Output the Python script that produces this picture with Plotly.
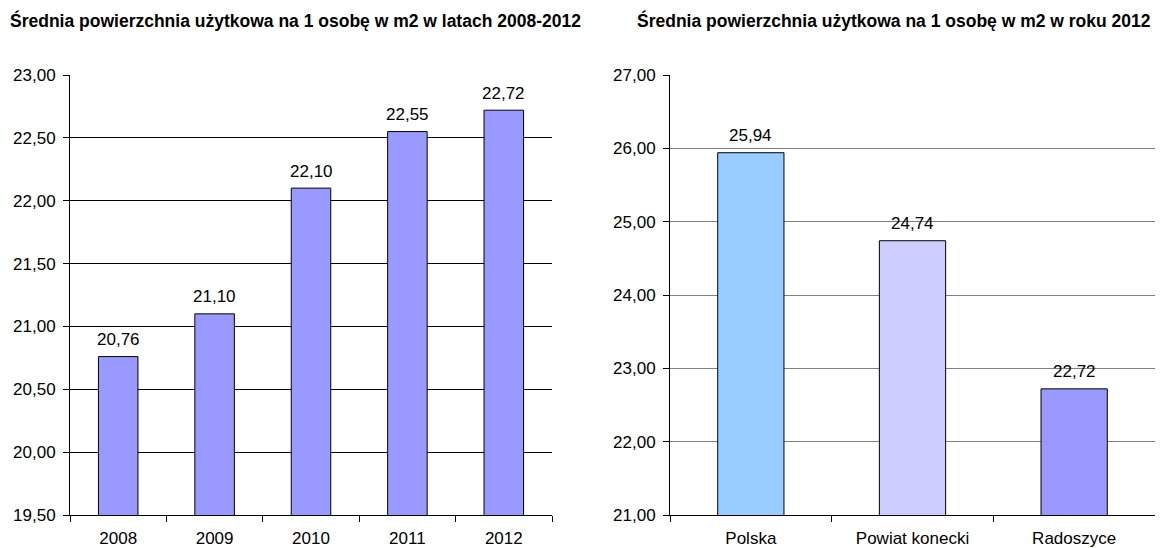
import plotly.graph_objects as go
from plotly.subplots import make_subplots

# left chart: years
years = ['2008', '2009', '2010', '2011', '2012']
area_years = [20.76, 21.10, 22.10, 22.55, 22.72]

# right chart: regions in 2012
regions = ['Polska', 'Powiat konecki', 'Radoszyce']
area_regions = [25.94, 24.74, 22.72]
region_colors = ['#99CCFF', '#CCCCFF', '#9999FF']

# page body adds an 8px margin, so the figure is a bit smaller than the window
OFF = 8
W, H = 1165 - OFF, 548 - OFF
ML, MR, MT, MB = 70 - OFF, 10, 75 - OFF, 33
PW = W - ML - MR
PH = H - MT - MB
font = 'Liberation Sans, Arial, sans-serif'
fs = 17

fig = make_subplots(rows=1, cols=2)

fig.add_trace(go.Bar(
    x=years, y=area_years,
    marker=dict(color='#9999FF', line=dict(color='#000000', width=1)),
    width=0.41,
), row=1, col=1)

fig.add_trace(go.Bar(
    x=regions, y=area_regions,
    marker=dict(color=region_colors, line=dict(color='#000000', width=1)),
    width=0.41,
), row=1, col=2)

# value labels above the bars (category index as x, so '2008' is not read as a number)
for ys, axn in [(area_years, ''), (area_regions, '2')]:
    for i, y in enumerate(ys):
        fig.add_annotation(
            x=i, y=y, xref='x' + axn, yref='y' + axn,
            text=f'{y:.2f}'.replace('.', ','), showarrow=False,
            yanchor='middle', yshift=17,
            font=dict(size=fs, color='#000000', family=font),
        )

xaxis_common = dict(
    type='category', showgrid=False, showline=True, linecolor='#000000', linewidth=1,
    ticks='outside', tickson='boundaries', ticklen=6, tickcolor='#000000',
    ticklabelstandoff=8,
    tickfont=dict(size=fs, color='#000000'), automargin=False,
)
yaxis_common = dict(
    domain=[0, 1], showline=True, linecolor='#000000', linewidth=1,
    ticks='outside', ticklen=6, tickcolor='#000000', ticklabelstandoff=4,
    tickfont=dict(size=fs, color='#000000'), tickformat='.2f',
    zeroline=False, automargin=False,
)

fig.update_xaxes(domain=[0, (544 - ML) / PW], **xaxis_common, row=1, col=1)
fig.update_xaxes(domain=[(662 - ML) / PW, 1], **xaxis_common, row=1, col=2)
fig.update_yaxes(range=[19.5, 23.0], dtick=0.5,
                 gridcolor='#000000', gridwidth=1, **yaxis_common, row=1, col=1)
fig.update_yaxes(range=[21.0, 27.0], dtick=1,
                 gridcolor='#808080', gridwidth=1, **yaxis_common, row=1, col=2)

# chart titles
fig.add_annotation(text='<b>Średnia powierzchnia użytkowa na 1 osobę w m2 w latach 2008-2012</b>',
                   xref='paper', yref='paper', x=(0 - ML) / PW, y=1 + (MT - 12) / PH,
                   xanchor='left', yanchor='middle', showarrow=False,
                   font=dict(size=17.5, color='#000000', family=font))
fig.add_annotation(text='<b>Średnia powierzchnia użytkowa na 1 osobę w m2 w roku 2012</b>',
                   xref='paper', yref='paper', x=(1145 - ML) / PW, y=1 + (MT - 12) / PH,
                   xanchor='right', yanchor='middle', showarrow=False,
                   font=dict(size=17.5, color='#000000', family=font))

fig.update_layout(
    width=W, height=H,
    margin=dict(l=ML, r=MR, t=MT, b=MB),
    paper_bgcolor='#FFFFFF', plot_bgcolor='#FFFFFF',
    font=dict(family=font, color='#000000'),
    separators=', ',
    showlegend=False,
)

fig.write_html('out.html')
